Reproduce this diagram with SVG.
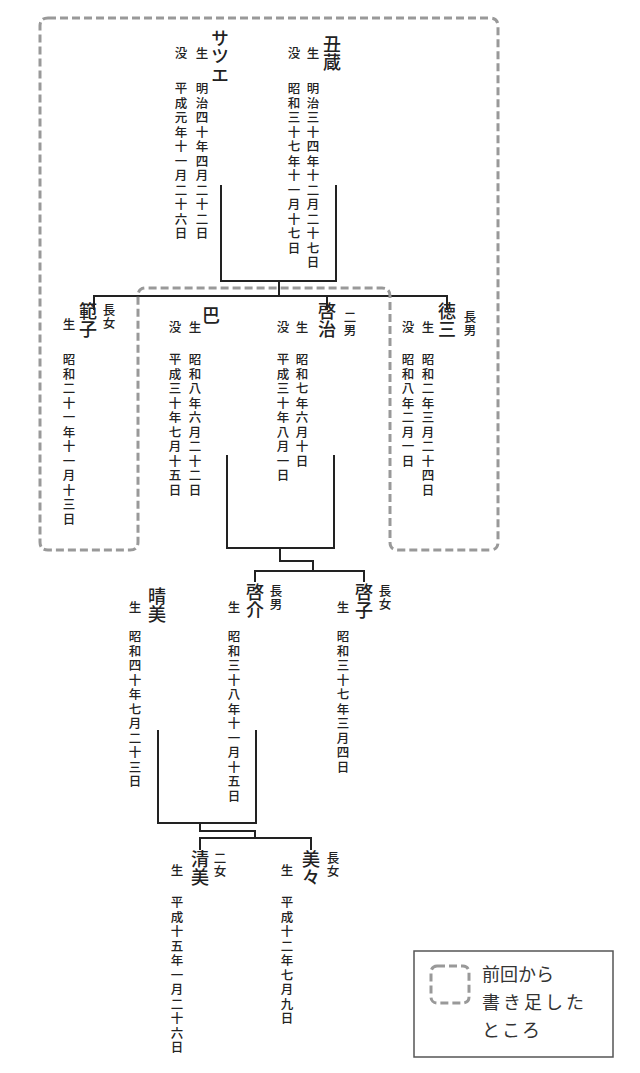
<svg xmlns="http://www.w3.org/2000/svg" width="640" height="1073" viewBox="0 0 640 1073">
<style>
text{font-family:"Noto Sans CJK JP","Noto Sans CJK SC",sans-serif;fill:#222;writing-mode:vertical-rl;text-orientation:upright;text-anchor:start}
.n{font-size:18px;font-weight:500;letter-spacing:0.5px}
.r{font-size:12.5px;font-weight:500}
.d{font-size:12.5px;font-weight:500;letter-spacing:2px}
.line{fill:none;stroke:#222;stroke-width:2}
.dash{fill:none;stroke:#999;stroke-width:3;stroke-dasharray:8 4}
.lg{writing-mode:horizontal-tb;font-size:18px;fill:#333}
</style>
<rect width="640" height="1073" fill="#fff"/>
<g id="connectors">
<path class="line" d="M221,185 V281 H336 V185 M279,281 V296 M94,310 V296 H447 V310 M327,296 V310"/>
<path class="line" d="M227,455 V548 H334 V455 M280,548 V561 H313 V571 M255,582 V571 H364 V582"/>
<path class="line" d="M158,730 V823 H256 V730 M200,823 V831 H255 V838 M200,850 V838 H311 V850"/>
</g>
<g id="added-region">
<path class="dash" d="M48,18 H490 Q498,18 498,26 V542 Q498,550 490,550 H398 Q390,550 390,542 V296 Q390,288 382,288 H146 Q138,288 138,296 V542 Q138,550 130,550 H48 Q40,550 40,542 V26 Q40,18 48,18 Z"/>
</g>
<g id="ushizo">
<text class="n" x="332" y="35">丑蔵</text>
<text class="r" x="313" y="47">生</text><text class="r" x="294" y="47">没</text>
<text class="d" x="313" y="82">明治三十四年十二月二十七日</text>
<text class="d" x="294" y="82">昭和三十七年十一月十七日</text>
</g>
<g id="satsue">
<text class="n" x="220" y="29">サツエ</text>
<text class="r" x="202" y="47">生</text><text class="r" x="181" y="47">没</text>
<text class="d" x="202" y="82">明治四十年四月二十二日</text>
<text class="d" x="181" y="82">平成元年十一月二十六日</text>
</g>
<g id="noriko">
<text class="n" x="88" y="302">範子</text>
<text class="r" x="109" y="304">長女</text>
<text class="r" x="69" y="318">生</text>
<text class="d" x="69" y="353">昭和二十一年十一月十三日</text>
</g>
<g id="tomoe">
<text class="n" x="211" y="306">巴</text>
<text class="r" x="195" y="321">生</text><text class="r" x="175" y="321">没</text>
<text class="d" x="195" y="353">昭和八年六月二十二日</text>
<text class="d" x="175" y="353">平成三十年七月十五日</text>
</g>
<g id="keiji">
<text class="n" x="327" y="302">啓治</text>
<text class="r" x="350" y="311">二男</text>
<text class="r" x="302" y="321">生</text><text class="r" x="283" y="321">没</text>
<text class="d" x="302" y="353">昭和七年六月十日</text>
<text class="d" x="283" y="353">平成三十年八月一日</text>
</g>
<g id="tokuzo">
<text class="n" x="447" y="302">徳三</text>
<text class="r" x="470" y="311">長男</text>
<text class="r" x="428" y="321">生</text><text class="r" x="408" y="321">没</text>
<text class="d" x="428" y="353">昭和二年三月二十四日</text>
<text class="d" x="408" y="353">昭和八年二月一日</text>
</g>
<g id="harumi">
<text class="n" x="157" y="587">晴美</text>
<text class="r" x="135" y="601">生</text>
<text class="d" x="135" y="630">昭和四十年七月二十三日</text>
</g>
<g id="keisuke">
<text class="n" x="255" y="583">啓介</text>
<text class="r" x="276" y="585">長男</text>
<text class="r" x="234" y="601">生</text>
<text class="d" x="234" y="630">昭和三十八年十一月十五日</text>
</g>
<g id="keiko">
<text class="n" x="364" y="583">啓子</text>
<text class="r" x="385" y="585">長女</text>
<text class="r" x="343" y="601">生</text>
<text class="d" x="343" y="630">昭和三十七年三月四日</text>
</g>
<g id="kiyomi">
<text class="n" x="200" y="850">清美</text>
<text class="r" x="220" y="852">二女</text>
<text class="r" x="177" y="864">生</text>
<text class="d" x="177" y="896">平成十五年一月二十六日</text>
</g>
<g id="mimi">
<text class="n" x="311" y="850">美々</text>
<text class="r" x="333" y="852">長女</text>
<text class="r" x="287" y="864">生</text>
<text class="d" x="287" y="896">平成十二年七月九日</text>
</g>
<g id="legend">
<rect x="414" y="951" width="199" height="106" fill="none" stroke="#555" stroke-width="1.5"/>
<rect x="431" y="966" width="38" height="37" rx="6" class="dash"/>
<text class="lg" x="482" y="981">前回から</text>
<text class="lg" x="482" y="1009" letter-spacing="3">書き足した</text>
<text class="lg" x="482" y="1037" letter-spacing="2">ところ</text>
</g>
</svg>
